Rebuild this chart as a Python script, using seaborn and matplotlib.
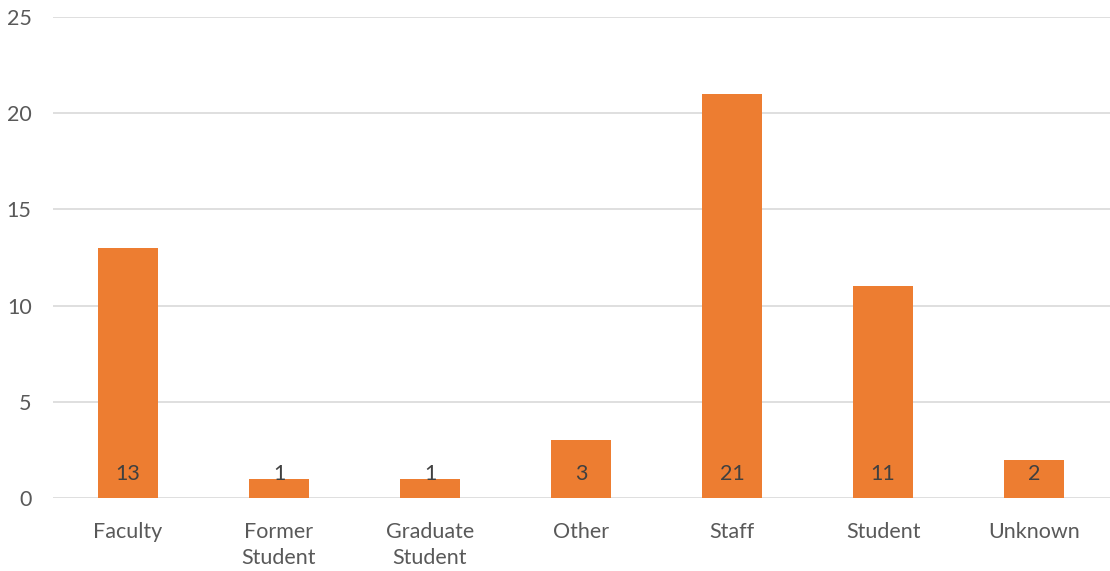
import matplotlib
matplotlib.use("Agg")
import matplotlib.pyplot as plt
import pandas as pd
import seaborn as sns

categories = ["Faculty", "Former\nStudent", "Graduate\nStudent", "Other", "Staff", "Student", "Unknown"]
counts = [13, 1, 1, 3, 21, 11, 2]
y_ticks = [0, 5, 10, 15, 20, 25]

BAR_COLOR = "#ED7D31"
GRID_COLOR = "#D9D9D9"
TEXT_COLOR = "#595959"
LABEL_COLOR = "#404040"


def main() -> None:
    sns.set_theme(style="white")
    plt.rcParams["font.family"] = ["Lato", "DejaVu Sans"]

    df = pd.DataFrame({"Category": categories, "Count": counts})

    fig = plt.figure(figsize=(11.1, 5.71), dpi=100)
    ax = fig.add_axes([0.0473, 0.1278, 0.9523, 0.8424])

    sns.barplot(data=df, x="Category", y="Count", color=BAR_COLOR,
                width=0.4, saturation=1, linewidth=0, ax=ax, zorder=3)

    for i, value in enumerate(counts):
        ax.annotate(str(value), xy=(i, 0), xytext=(0, 17.5),
                    textcoords="offset points", ha="center", va="center",
                    fontsize=15.5, color=LABEL_COLOR, zorder=4)

    ax.set_xlim(-0.5, len(categories) - 0.5)
    ax.set_ylim(0, 25)
    ax.set_yticks(y_ticks)
    ax.yaxis.grid(True, color=GRID_COLOR, linewidth=1.2, zorder=0)
    ax.set_axisbelow(True)
    for spine in ax.spines.values():
        spine.set_visible(False)

    ax.set_xlabel("")
    ax.set_ylabel("")
    ax.tick_params(axis="both", length=0, labelsize=15.5, labelcolor=TEXT_COLOR)
    ax.tick_params(axis="y", pad=15)
    ax.tick_params(axis="x", pad=17)
    for label in ax.get_xticklabels():
        label.set_linespacing(1.4)

    fig.savefig("out.png", dpi=100)
    plt.close(fig)


if __name__ == "__main__":
    main()
